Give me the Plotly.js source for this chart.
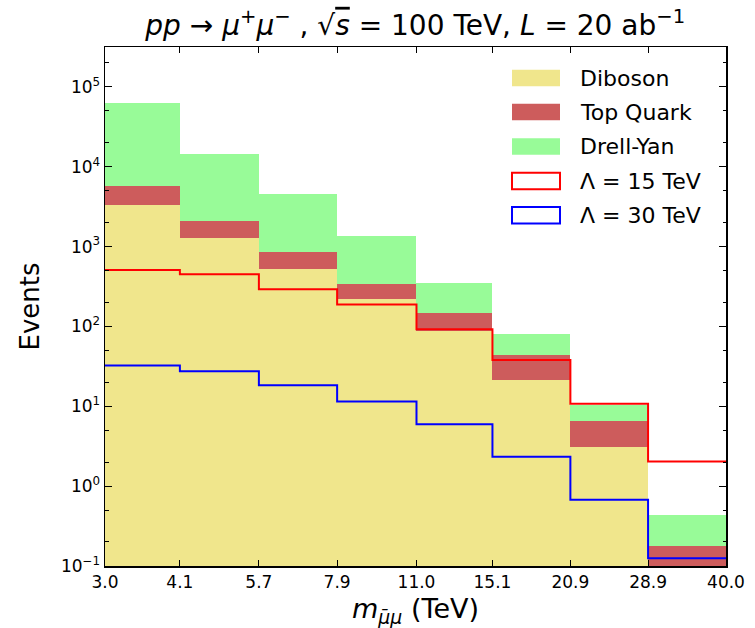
<!DOCTYPE html>
<html>
<head>
<meta charset="utf-8">
<script src="https://cdn.plot.ly/plotly-3.0.1.min.js"></script>
<style>html,body{margin:0;padding:0;background:#fff;}</style>
</head>
<body>
<div id="chart" style="width:755px;height:628px;"></div>
<script>
// Bin edges (TeV) and tick labels
const edges = [3.0, 4.1, 5.7, 7.9, 11.0, 15.1, 20.9, 28.9, 40.0];
const edgeLabels = ["3.0", "4.1", "5.7", "7.9", "11.0", "15.1", "20.9", "28.9", "40.0"];

// Stacked background components (events per bin)
const diboson  = [3300, 1300, 525, 222, 89, 21.5, 3.07, 0.05];
const topQuark = [2450, 770, 340, 119, 59, 23, 3.4, 0.13];
const drellYan = [57000, 12200, 3700, 1000, 207, 36, 3.8, 0.26];

// Signal step lines
const lambda15 = [510, 450, 293, 188, 92, 38, 10.8, 2.04];
const lambda30 = [32.5, 27.4, 18.3, 11.5, 5.96, 2.33, 0.675, 0.125];

// Y tick labels
const yTickVals = [0.1, 1, 10, 100, 1000, 10000, 100000];
const yTickText = ["10<sup>\u22121</sup>", "10<sup>0</sup>", "10<sup>1</sup>", "10<sup>2</sup>", "10<sup>3</sup>", "10<sup>4</sup>", "10<sup>5</sup>"];

const seriesNames = ["Diboson", "Top Quark", "Drell-Yan"];
const seriesColors = ["#F0E68C", "#CD5C5C", "#98FB98"];
const lineNames = ["\u039b = 15 TeV", "\u039b = 30 TeV"];
const lineColors = ["#FF0000", "#0000FF"];

const centers = edges.slice(0, -1).map((e, i) => (e + edges[i + 1]) / 2);
const widths = edges.slice(0, -1).map((e, i) => edges[i + 1] - e);

const bars = [diboson, topQuark, drellYan].map((vals, k) => ({
  type: "bar", x: centers, y: vals, width: widths,
  marker: {color: seriesColors[k], line: {width: 0}},
  name: seriesNames[k], showlegend: false, hoverinfo: "skip"
}));

const lines = [lambda15, lambda30].map((vals, k) => ({
  type: "scatter", mode: "lines", x: edges, y: vals.concat([vals[vals.length - 1]]),
  line: {shape: "hv", color: lineColors[k], width: 2},
  name: lineNames[k], showlegend: false, hoverinfo: "skip"
}));

// Manual legend (paper coords)
const L = 105, R = 726, T = 47, B = 566;
const px = v => (v - L) / (R - L);
const py = v => (B - v) / (B - T);
const legCenters = [78, 112, 146.5, 181, 215.3];
const shapes = [];
const annotations = [];
const allNames = seriesNames.concat(lineNames);
legCenters.forEach((c, i) => {
  const filled = i < 3;
  shapes.push({
    type: "rect", xref: "paper", yref: "paper",
    x0: px(512), x1: px(560), y0: py(c + 8.3), y1: py(c - 8.3),
    fillcolor: filled ? seriesColors[i] : "rgba(0,0,0,0)",
    line: filled ? {width: 0} : {color: lineColors[i - 3], width: 2}
  });
  annotations.push({
    xref: "paper", yref: "paper", x: px(578), y: py(c),
    xanchor: "left", yanchor: "middle", showarrow: false,
    text: allNames[i], font: {size: 22, color: "#000"}
  });
});

const layout = {
  width: 755, height: 628,
  margin: {l: L, r: 755 - R, t: T, b: 628 - B},
  paper_bgcolor: "#fff", plot_bgcolor: "#fff",
  font: {family: "DejaVu Sans", color: "#000"},
  barmode: "stack", bargap: 0,
  showlegend: false,
  title: {
    text: "<i>pp</i> \u2192 <i>\u03bc</i><sup>+</sup><i>\u03bc</i><sup>\u2212</sup> , \u221a<span style=\"text-decoration:overline\"><i>s</i></span> = 100 TeV, <i>L</i> = 20 ab<sup>\u22121</sup>",
    font: {size: 28, color: "#000"},
    x: 0.55, xanchor: "center", y: 1 - 25 / 628, yanchor: "middle", yref: "container"
  },
  xaxis: {
    type: "log", range: [Math.log10(edges[0]), Math.log10(edges[edges.length - 1])],
    tickmode: "array", tickvals: edges, ticktext: edgeLabels,
    ticks: "inside", ticklen: 6, tickwidth: 1, tickcolor: "#000",
    showline: true, linecolor: "#000", linewidth: 1.5, mirror: "ticks",
    showgrid: false, zeroline: false,
    tickfont: {size: 17},
    title: {text: "<i>m</i><sub><i>\u03bc\u0304\u03bc</i></sub> (TeV)", font: {size: 27}, standoff: 9}
  },
  yaxis: {
    type: "log", range: [-1, 5.5],
    tickmode: "array", tickvals: yTickVals, ticktext: yTickText,
    ticks: "inside", ticklen: 7, tickwidth: 1, tickcolor: "#000",
    minor: {ticks: "inside", ticklen: 3.5, tickwidth: 1, tickcolor: "#000", showgrid: false},
    showline: true, linecolor: "#000", linewidth: 1.5, mirror: "ticks",
    showgrid: false, zeroline: false,
    tickfont: {size: 17},
    title: {text: "Events", font: {size: 26}, standoff: 14}
  },
  shapes: shapes,
  annotations: annotations
};

Plotly.newPlot("chart", bars.concat(lines), layout, {staticPlot: true});
</script>
</body>
</html>
